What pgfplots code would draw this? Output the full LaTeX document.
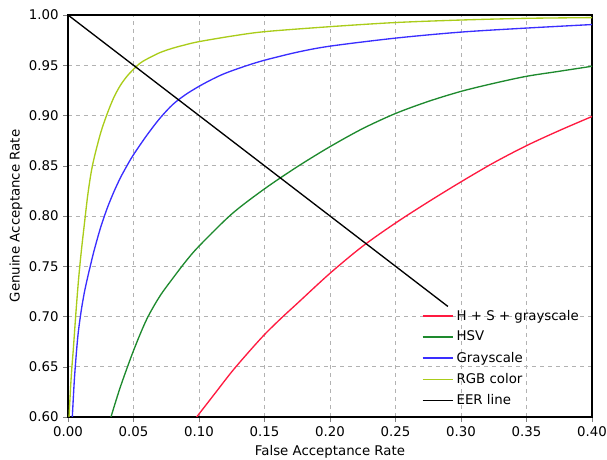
\documentclass[border=0pt]{standalone}
\usepackage{fontspec}
\setmainfont{DejaVu Sans}
\usepackage{pgfplots}
\pgfplotsset{compat=1.18}
\usetikzlibrary{calc}
\definecolor{cred}{HTML}{FF1A40}
\definecolor{cgreen}{HTML}{1E8A2E}
\definecolor{cblue}{HTML}{3A2EFF}
\definecolor{cyg}{HTML}{AACC1A}
\begin{document}
\begin{tikzpicture}
\begin{axis}[
  name=ax,
  scale only axis,
  width=393pt, height=301.5pt,
  xmin=0, xmax=0.40, ymin=0.60, ymax=1.00,
  xtick={0,0.05,...,0.40}, ytick={0.60,0.65,...,1.00},
  xticklabel style={/pgf/number format/.cd,fixed,fixed zerofill,precision=2},
  yticklabel style={/pgf/number format/.cd,fixed,fixed zerofill,precision=2},
  /pgf/number format/assume math mode=true,
  tick label style={font=\fontsize{10}{12}\selectfont},
  label style={font=\fontsize{10}{12}\selectfont},
  xlabel={False Acceptance Rate},
  ylabel={Genuine Acceptance Rate},
  ylabel style={yshift=-2pt},
  tick align=outside, tick pos=left,
  major tick length=3.5pt,
  grid=major,
  major grid style={dashed, gray!60, line width=0.5pt},
  axis line style={line width=0.8pt},
  legend style={draw=none, fill=none, at={(0.988,0.012)}, anchor=south east,
    font=\fontsize{10}{12}\selectfont, row sep=2.8pt},
  legend cell align=left,
  legend image code/.code={\draw[#1] (0pt,0pt) -- (23pt,0pt);},
  every axis plot/.append style={line width=1pt, smooth, tension=0.5},
]
\addplot[cred] coordinates {
 (0.0982,0.600) (0.100,0.603) (0.1125,0.624) (0.125,0.645) (0.1375,0.664)
 (0.150,0.682) (0.1625,0.698) (0.175,0.713) (0.200,0.743) (0.225,0.770)
 (0.250,0.793) (0.275,0.814) (0.300,0.834) (0.325,0.853) (0.350,0.870)
 (0.375,0.885) (0.400,0.899)};
\addlegendentry{H + S + grayscale}
\addplot[cgreen] coordinates {
 (0.0328,0.600) (0.040,0.630) (0.050,0.666) (0.060,0.697) (0.070,0.720)
 (0.080,0.738) (0.090,0.755) (0.100,0.770) (0.125,0.802) (0.150,0.827)
 (0.175,0.849) (0.200,0.869) (0.225,0.887) (0.250,0.902)
 (0.275,0.914) (0.300,0.924) (0.325,0.932) (0.350,0.939) (0.375,0.944)
 (0.400,0.949)};
\addlegendentry{HSV}
\addplot[cblue] coordinates {
 (0.0033,0.600) (0.005,0.640) (0.0075,0.680) (0.010,0.705) (0.0125,0.724)
 (0.015,0.739) (0.0168,0.749) (0.020,0.766) (0.025,0.789) (0.030,0.808)
 (0.035,0.824) (0.040,0.838) (0.045,0.850) (0.050,0.861) (0.060,0.880)
 (0.070,0.897) (0.080,0.911) (0.090,0.921) (0.100,0.929) (0.110,0.936)
 (0.120,0.942) (0.135,0.949) (0.150,0.955) (0.175,0.963) (0.200,0.969)
 (0.250,0.977) (0.300,0.983) (0.350,0.987) (0.400,0.9905)};
\addlegendentry{Grayscale}
\addplot[cyg] coordinates {
 (0.0008,0.600) (0.002,0.630) (0.003,0.650) (0.0041,0.668) (0.006,0.703)
 (0.008,0.736) (0.010,0.763) (0.0125,0.792) (0.015,0.820) (0.0175,0.842)
 (0.020,0.858) (0.025,0.883) (0.030,0.902) (0.035,0.918) (0.040,0.930)
 (0.045,0.939) (0.050,0.946) (0.055,0.952) (0.060,0.956) (0.070,0.9625)
 (0.080,0.967) (0.090,0.9705) (0.100,0.9735) (0.125,0.979) (0.150,0.9834)
 (0.200,0.9884) (0.250,0.9925) (0.300,0.995) (0.350,0.9967) (0.400,0.9974)};
\addlegendentry{RGB color}
\addplot[black, sharp plot] coordinates {(0,1) (0.29,0.71)};
\addlegendentry{EER line}
\end{axis}
\pgfresetboundingbox
\path[use as bounding box] ($(ax.south west)+(-51pt,-32.25pt)$) rectangle ($(ax.north east)+(11.25pt,11.25pt)$);
\end{tikzpicture}
\end{document}
